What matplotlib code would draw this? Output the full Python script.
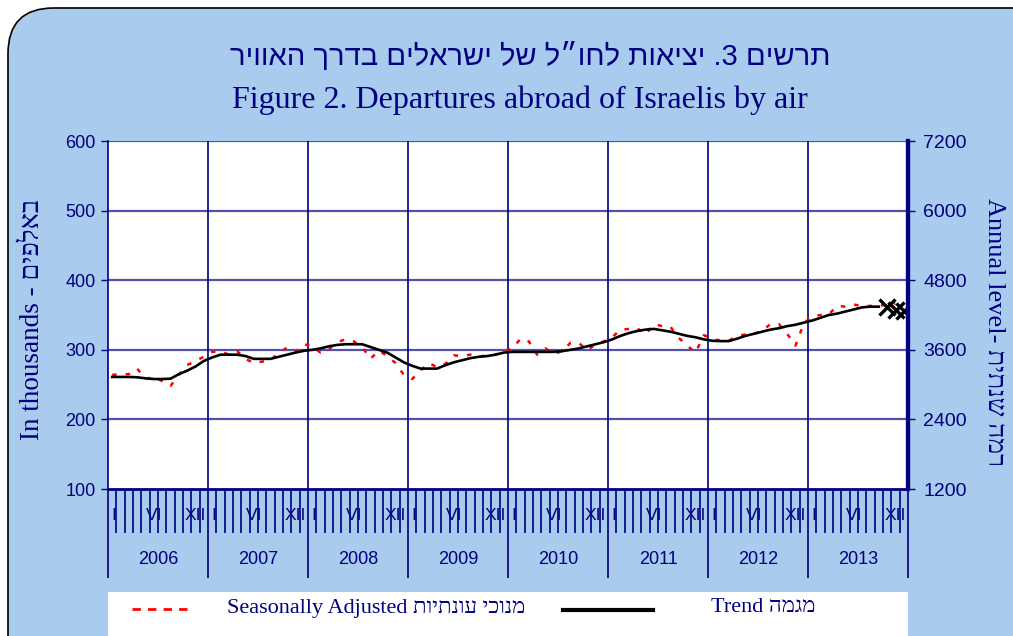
import matplotlib
matplotlib.use('Agg')
import matplotlib.pyplot as plt
import matplotlib.transforms as mtransforms
from matplotlib.patches import FancyBboxPatch, Rectangle
import numpy as np

# --- data (monthly, Jan 2006 .. Dec 2013), thousands ---
years = ['2006', '2007', '2008', '2009', '2010', '2011', '2012', '2013']
month_labels = {0: 'I', 5: 'VI', 11: 'XII'}

seasonally_adjusted = [
    264, 265, 265, 273, 258, 261, 255, 248, 264, 278, 284, 290,
    297, 298, 293, 298, 287, 281, 283, 285, 296, 303, 297, 308,
    305, 296, 301, 311, 315, 312, 304, 287, 299, 291, 281, 264,
    258, 270, 281, 275, 280, 292, 291, 293, 290, 292, 293, 299,
    301, 316, 312, 293, 302, 294, 298, 310, 310, 299, 308, 312,
    318, 329, 330, 331, 322, 337, 334, 333, 317, 306, 296, 321,
    316, 313, 313, 320, 322, 323, 327, 337, 337, 323, 306, 338,
    348, 350, 351, 363, 362, 365, 363, 363, 364, 364, 366,
]
trend = [
    261, 261, 261, 260.5, 259, 258, 258, 258.5, 265, 270, 276, 284,
    289, 293, 293, 293, 291, 287, 287, 287, 290, 293, 296, 298.5,
    300, 302, 305, 307, 308, 308, 308, 304, 300, 296, 289, 282,
    277, 273, 273, 273, 278, 282, 285, 288, 290, 291, 293, 296,
    297, 297, 297, 297, 297, 297, 298, 300, 302, 305, 308, 311,
    315, 320, 324, 327, 329, 330, 328, 326, 323, 320, 318, 315,
    313, 312.5, 312.5, 316, 320, 323, 326, 329, 331, 334, 336, 339,
    342, 346, 350, 352, 355, 358, 361, 362, 362,
]
trend_prelim = [361, 357, 356]   # last three months, marked with X

NAVY = '#000080'
GRID = '#5252a8'
BG = '#a9cbee'

plt.rcParams['font.family'] = ['Liberation Sans', 'DejaVu Sans']

fig = plt.figure(figsize=(10.13, 6.36), dpi=100)
fig.patch.set_facecolor('white')

# rounded light-blue frame
frame = FancyBboxPatch((8 / 1013, -0.1), 1.2, 1.1 - 8 / 636,
                       boxstyle='round,pad=0,rounding_size=0.045',
                       transform=fig.transFigure, facecolor=BG,
                       edgecolor='black', linewidth=1.2, zorder=-5,
                       mutation_aspect=1013 / 636)
fig.patches.append(frame)

ax = fig.add_axes([108 / 1013, 1 - 489 / 636, 800 / 1013, 348 / 636])
ax.set_facecolor('white')

n_sa = len(seasonally_adjusted)
n_tr = len(trend)
x_sa = np.arange(n_sa) + 0.5
x_tr = np.arange(n_tr) + 0.5
x_pre = np.arange(n_tr, n_tr + len(trend_prelim)) + 0.5

ax.plot(x_sa, seasonally_adjusted, color='red', linewidth=1.8,
        linestyle=(0, (1.8, 3.6)), zorder=3)
ax.plot(x_tr, trend, color='black', linewidth=1.9, zorder=4)
ax.plot(x_pre, trend_prelim, linestyle='none', marker='x', color='black',
        markersize=11, markeredgewidth=2.4, zorder=5)

ax.set_xlim(0, 96)
ax.set_ylim(100, 600)
ax.set_yticks(range(100, 601, 100))

# grid
for v in range(200, 601, 100):
    ax.axhline(v, color=GRID, linewidth=1.6, zorder=1)
for k in range(12, 96, 12):
    ax.axvline(k, color=NAVY, linewidth=1.2, zorder=1)

ax.spines['top'].set_visible(False)
ax.spines['left'].set_color(NAVY)
ax.spines['left'].set_linewidth(1.2)
ax.spines['bottom'].set_color(NAVY)
ax.spines['bottom'].set_linewidth(2)
ax.spines['right'].set_color(NAVY)
ax.spines['right'].set_linewidth(3)

ax.tick_params(axis='y', colors=NAVY, labelcolor=NAVY, labelsize=13,
               length=5, width=1, direction='out', pad=4)

# x axis: month ticks and year separators
ax.set_xticks(range(0, 97, 12))
ax.set_xticks(range(0, 97), minor=True)
ax.set_xticklabels([])
ax.tick_params(axis='x', which='major', length=64, width=1.2, color=NAVY)
ax.tick_params(axis='x', which='minor', length=31.7, width=1.2, color=NAVY)

trans = mtransforms.blended_transform_factory(ax.transData, fig.transFigure)
y_month = 1 - 515 / 636
for yi, yr in enumerate(years):
    base = yi * 12
    ax.text(base + 0.35, y_month, month_labels[0], transform=trans,
            ha='left', va='center', color=NAVY, fontsize=12.5)
    ax.text(base + 5.5, y_month, month_labels[5], transform=trans,
            ha='center', va='center', color=NAVY, fontsize=12.5)
    ax.text(base + 11.8, y_month, month_labels[11], transform=trans,
            ha='right', va='center', color=NAVY, fontsize=12.5)
    ax.text(base + 6, 1 - 560 / 636, yr, transform=trans,
            ha='center', va='center', color=NAVY, fontsize=13)

# right axis: annual level
ax2 = ax.twinx()
ax2.set_ylim(1200, 7200)
ax2.set_yticks(range(1200, 7201, 1200))
ax2.tick_params(axis='y', colors=NAVY, labelcolor=NAVY, labelsize=14,
                length=5, width=1, pad=6)
for side in ['top', 'left', 'bottom']:
    ax2.spines[side].set_visible(False)
ax2.spines['right'].set_color(NAVY)
ax2.spines['right'].set_linewidth(3)

# titles
he_title = 'תרשים 3. יציאות לחו״ל של ישראלים בדרך האוויר'
fig.text(530 / 1013, 1 - 57 / 636, he_title[::-1], ha='center', va='center',
         color=NAVY, fontsize=21, family=['Liberation Sans', 'DejaVu Sans'])
fig.text(520 / 1013, 1 - 100 / 636, 'Figure 2. Departures abroad of Israelis by air',
         ha='center', va='center', color=NAVY, fontsize=23,
         family=['Liberation Serif', 'DejaVu Sans'])

# axis titles
fig.text(33 / 1013, 1 - 320 / 636, 'In thousands - ' + 'באלפים'[::-1],
         rotation=90, ha='center', va='center', color=NAVY, fontsize=19.5,
         family=['Liberation Serif', 'DejaVu Sans'])
fig.text(995 / 1013, 1 - 332 / 636, 'Annual level- ' + 'רמה שנתית'[::-1],
         rotation=-90, ha='center', va='center', color=NAVY, fontsize=19,
         family=['Liberation Serif', 'DejaVu Sans'])

# legend box
leg = fig.add_axes([108 / 1013, 0, 800 / 1013, 44 / 636])
leg.set_xlim(0, 800)
leg.set_ylim(44, 0)
leg.axis('off')
leg.add_patch(Rectangle((0, 0), 800, 44, facecolor='white', edgecolor='none'))
leg.plot([24, 86], [17, 17], color='red', linewidth=2, linestyle=(0, (3.0, 2.6)))
leg.text(119, 16, 'Seasonally Adjusted ' + 'מנוכי עונתיות'[::-1], ha='left',
         va='center', color=NAVY, fontsize=16,
         family=['Liberation Serif', 'DejaVu Sans'])
leg.plot([455, 545], [18, 18], color='black', linewidth=3)
leg.text(603, 16, 'Trend ' + 'מגמה'[::-1], ha='left', va='center',
         color=NAVY, fontsize=16, family=['Liberation Serif', 'DejaVu Sans'])

fig.savefig('out.png', dpi=100, facecolor=fig.get_facecolor())
